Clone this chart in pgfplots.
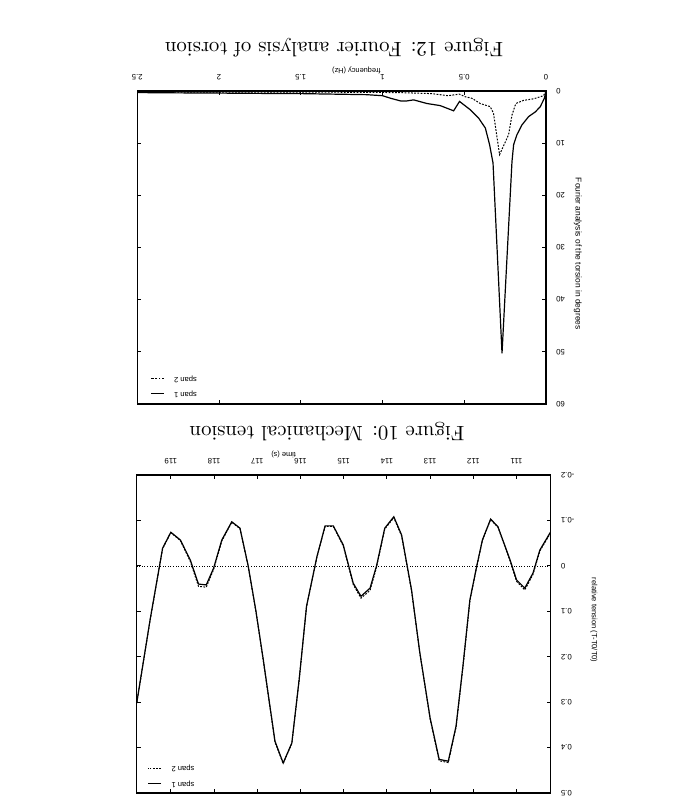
\documentclass[border=0pt]{standalone}
\usepackage{fontspec}
\setsansfont{Liberation Sans}
\usepackage{graphicx}
\usepackage{pgfplots}
\pgfplotsset{compat=1.18}
\begin{document}
\rotatebox{180}{%
\begin{tikzpicture}
\path[use as bounding box] (0pt,0pt) rectangle (342pt,404.5pt);
\pgfplotsset{
  scanaxis/.style={
    scale only axis,
    axis line style={line width=0.55pt},
    every tick/.style={line width=0.45pt, black},
    major tick length=2pt,
    tick align=inside,
    tick pos=both,
    /pgf/number format/assume math mode=true,
    ticklabel style={font=\sffamily\fontsize{3.9}{4.5}\selectfont},
    xticklabel style={yshift=-2pt},
    yticklabel style={xshift=-1.6pt},
    legend style={draw=none, fill=none, inner sep=0pt,
      font=\sffamily\fontsize{3.8}{4.4}\selectfont, row sep=-0.6pt, column sep=3pt},
    legend plot pos=right,
    legend cell align=right,
    legend image code/.code={\draw[##1] (0pt,0pt) -- (6.5pt,0pt);},
  },
  span1/.style={black, line width=0.6pt},
  span2/.style={black, line width=0.5pt, dash pattern=on 0.9pt off 0.7pt},
}
% ---------- Figure 10 ----------
\begin{axis}[scanaxis,
  at={(66.65pt,237.5pt)}, anchor=south west,
  width=207pt, height=159pt,
  xmin=110.21, xmax=119.79, ymin=-0.2, ymax=0.5,
  xtick={111,112,113,114,115,116,117,118,119},
  xticklabels={111,112,113,114,115,116,117,118,119},
  ytick={-0.2,-0.1,0,0.1,0.2,0.3,0.4,0.5},
  yticklabels={-0.2,-0.1,0,0.1,0.2,0.3,0.4,0.5},
  xlabel={time (s)},
  ylabel={relative tension (T-T0/T0)},
  every axis x label/.style={at={(axis description cs:0.645,-0.066)}, anchor=center,
    font=\sffamily\fontsize{3.7}{4.4}\selectfont},
  every axis y label/.style={at={(axis description cs:-0.104,0.456)}, anchor=center, rotate=90,
    font=\sffamily\fontsize{3.8}{4.4}\selectfont},
  legend style={at={(0.975,0.996)}, anchor=north east},
]
\addplot[span1] coordinates {
(110.21,-0.075) (110.46,-0.035) (110.62,0.016) (110.81,0.049) (111.00,0.031)
(111.15,-0.013) (111.43,-0.086) (111.60,-0.103) (111.79,-0.057) (111.92,0.000)
(112.08,0.075) (112.24,0.220) (112.40,0.353) (112.58,0.430) (112.79,0.426)
(113.00,0.335) (113.24,0.190) (113.43,0.053) (113.66,-0.068) (113.84,-0.108)
(114.05,-0.083) (114.24,0.000) (114.39,0.049) (114.60,0.067) (114.78,0.038)
(115.01,-0.046) (115.24,-0.088) (115.43,-0.088) (115.62,-0.020) (115.86,0.089)
(116.03,0.250) (116.20,0.390) (116.40,0.434) (116.59,0.386) (116.86,0.207)
(117.03,0.100) (117.21,0.000) (117.40,-0.083) (117.59,-0.097) (117.82,-0.057)
(118.01,0.005) (118.18,0.042) (118.36,0.040) (118.55,-0.013) (118.78,-0.057)
(119.00,-0.074) (119.19,-0.039) (119.48,0.119) (119.79,0.302)
};
\addlegendentry{span 1}
\addplot[span2] coordinates {
(110.21,-0.073) (110.46,-0.033) (110.62,0.019) (110.81,0.053) (111.00,0.034)
(111.15,-0.011) (111.43,-0.085) (111.60,-0.102) (111.79,-0.056) (111.92,0.001)
(112.08,0.077) (112.24,0.222) (112.40,0.355) (112.58,0.433) (112.79,0.429)
(113.00,0.337) (113.24,0.191) (113.43,0.055) (113.66,-0.066) (113.84,-0.106)
(114.05,-0.081) (114.24,0.003) (114.39,0.054) (114.60,0.071) (114.78,0.041)
(115.01,-0.044) (115.24,-0.087) (115.43,-0.087) (115.62,-0.019) (115.86,0.090)
(116.03,0.251) (116.20,0.391) (116.40,0.435) (116.59,0.388) (116.86,0.209)
(117.03,0.101) (117.21,0.001) (117.40,-0.082) (117.59,-0.096) (117.82,-0.055)
(118.01,0.008) (118.18,0.047) (118.36,0.045) (118.55,-0.010) (118.78,-0.056)
(119.00,-0.073) (119.19,-0.038) (119.48,0.120) (119.79,0.303)
};
\addlegendentry{span 2}
\addplot[forget plot, black, line width=0.3pt, densely dotted] coordinates {(110.21,0) (119.79,0)};
\end{axis}
\node[font=\fontsize{10.4}{12}\selectfont] at (178.5pt,216pt) {Figure 10: Mechanical tension};
% ---------- Figure 12 ----------
\begin{axis}[scanaxis,
  at={(69pt,45.5pt)}, anchor=south west,
  width=204.35pt, height=156.5pt,
  xmin=0, xmax=2.5, ymin=0, ymax=60,
  xtick={0,0.5,1,1.5,2,2.5},
  xticklabels={0,0.5,1,1.5,2,2.5},
  ytick={0,10,20,30,40,50,60},
  yticklabels={0,10,20,30,40,50,60},
  xlabel={frequency (Hz)},
  ylabel={Fourier analysis of the torsion in degrees},
  every axis x label/.style={at={(axis description cs:0.464,-0.067)}, anchor=center,
    font=\sffamily\fontsize{3.7}{4.4}\selectfont},
  every axis y label/.style={at={(axis description cs:-0.078,0.52)}, anchor=center, rotate=90,
    font=\sffamily\fontsize{4.2}{4.8}\selectfont},
  legend style={at={(0.97,0.993)}, anchor=north east},
]
\addplot[span1] coordinates {
(0,0) (0.010,1.4) (0.035,3.0) (0.065,4.0) (0.106,4.9) (0.147,6.5) (0.178,8.4)
(0.198,10.3) (0.208,13.5) (0.269,50.3) (0.324,13.8) (0.345,10.3) (0.371,7.1)
(0.412,5.2) (0.463,3.6) (0.529,2.0) (0.565,3.8) (0.647,2.8) (0.728,2.4)
(0.810,1.7) (0.850,1.9) (0.890,1.9) (0.950,1.4) (1.000,0.9) (1.100,0.7)
(1.300,0.6) (1.500,0.5) (1.800,0.45) (2.000,0.4) (2.300,0.35) (2.500,0.3)
};
\addlegendentry{span 1}
\addplot[span2] coordinates {
(0,0) (0.015,0.9) (0.076,1.5) (0.137,1.8) (0.178,2.3) (0.188,2.7) (0.208,4.6)
(0.229,8.4) (0.284,12.2) (0.321,4.3) (0.341,3.0) (0.402,2.4) (0.453,1.4)
(0.494,1.1) (0.530,0.6) (0.600,0.9) (0.700,0.5) (0.900,0.3) (1.200,0.25)
(1.500,0.2) (2.000,0.2) (2.500,0.2)
};
\addlegendentry{span 2}
\end{axis}
\node[font=\fontsize{10.4}{12}\selectfont] at (175pt,24pt) {Figure 12: Fourier analysis of torsion};
\end{tikzpicture}}
\end{document}
